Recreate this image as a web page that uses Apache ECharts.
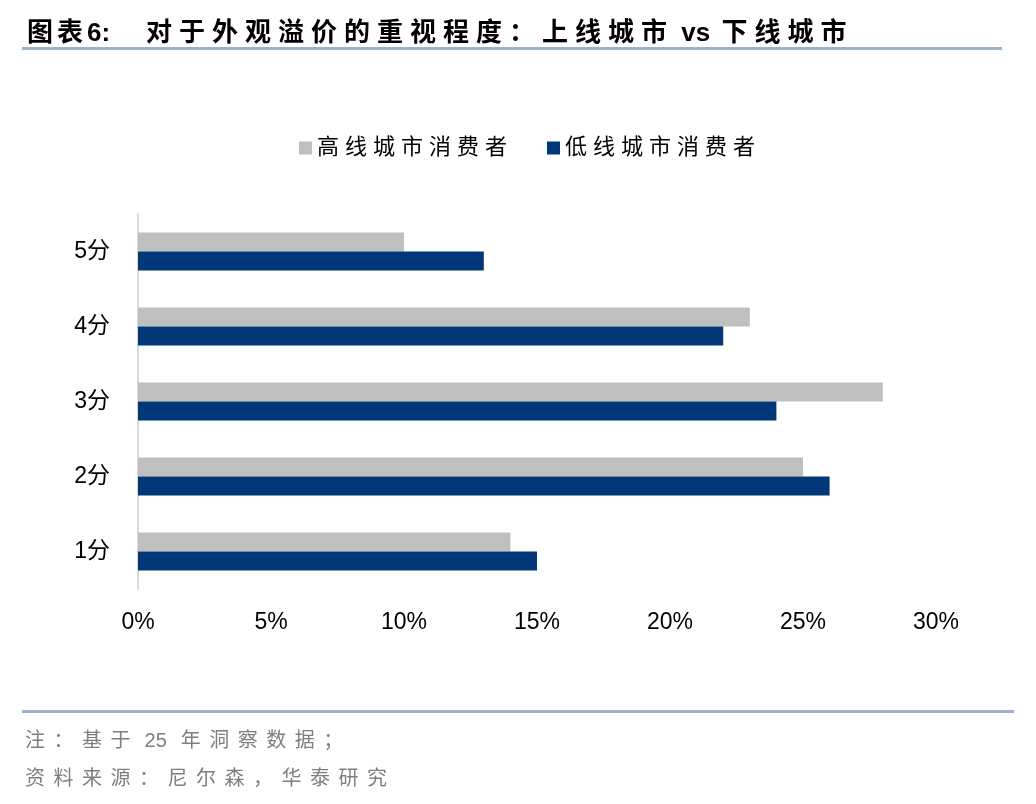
<!DOCTYPE html>
<html>
<head>
<meta charset="utf-8">
<script src="https://cdn.jsdelivr.net/npm/echarts@6/dist/echarts.min.js"></script>
<style>
html,body{margin:0;padding:0;background:#fff;}
#chart{width:1036px;height:804px;}
</style>
</head>
<body>
<div id="chart"></div>
<script>
const categories = ['1分', '2分', '3分', '4分', '5分'];
const highTier = [14, 25, 28, 23, 10];
const lowTier = [15, 26, 24, 22, 13];
const seriesNames = ['高线城市消费者', '低线城市消费者'];
const xTicks = [0, 5, 10, 15, 20, 25, 30];

const font = '"Liberation Sans", Arial, "Noto Sans CJK SC", sans-serif';
// split text into rich tokens: each CJK char separately (for letter spacing), other runs together
function spaced(str, key) {
  const parts = str.match(/[\u3000-\u9fff\uff00-\uffef]|[^\u3000-\u9fff\uff00-\uffef]+/g) || [];
  return parts.map(p => '{' + key + '|' + p + '}').join('');
}

const chart = echarts.init(document.getElementById('chart'), null, {renderer: 'canvas'});
const footStyle = {fontSize: 20, fontWeight: 'normal', color: '#7f7f7f', fontFamily: font, padding: [0, 8.5, 0, 0]};
chart.setOption({
  animation: false,
  backgroundColor: '#ffffff',
  title: [
    {
      text: spaced('图表', 't1') + '{t0|6:}{gap| }' + spaced('对于外观溢价的重视程度：上线城市', 't2') + '{t0| vs }' + spaced('下线城市', 't2'),
      left: 22, top: 16,
      textStyle: {
        fontSize: 26, fontWeight: 'bold', color: '#000', fontFamily: font,
        rich: {
          t0: {fontSize: 26, fontWeight: 'bold', color: '#000', fontFamily: font, padding: [0, 4, 0, 0]},
          t1: {fontSize: 26, fontWeight: 'bold', color: '#000', fontFamily: font, padding: [0, 4, 0, 0]},
          t2: {fontSize: 26, fontWeight: 'bold', color: '#000', fontFamily: font, padding: [0, 7, 0, 0]},
          gap: {fontSize: 26, fontFamily: font, width: 32}
        }
      }
    },
    {
      text: spaced('注：基于 25 年洞察数据；', 'f'),
      left: 20, top: 726,
      textStyle: {fontSize: 20, fontWeight: 'normal', color: '#7f7f7f', fontFamily: font, rich: {f: footStyle}}
    },
    {
      text: spaced('资料来源：尼尔森，华泰研究', 'f'),
      left: 20, top: 764,
      textStyle: {fontSize: 20, fontWeight: 'normal', color: '#7f7f7f', fontFamily: font, rich: {f: footStyle}}
    }
  ],
  graphic: [
    {type: 'rect', shape: {x: 22, y: 47, width: 980, height: 3}, style: {fill: '#9DB2CD'}},
    {type: 'rect', shape: {x: 22, y: 710, width: 992, height: 3}, style: {fill: '#9DB2CD'}}
  ],
  legend: {
    data: seriesNames,
    top: 132,
    left: 294,
    itemWidth: 13, itemHeight: 13,
    itemGap: 40,
    icon: 'rect',
    formatter: name => spaced(name, 'l'),
    textStyle: {
      fontSize: 22, color: '#000', fontFamily: font,
      rich: {l: {fontSize: 22, color: '#000', fontFamily: font, padding: [0, 6, 0, 0]}}
    }
  },
  grid: {left: 138, right: 100, top: 214, bottom: 215, containLabel: false},
  xAxis: {
    type: 'value',
    min: 0, max: 30, interval: 5,
    axisLine: {show: false},
    axisTick: {show: false},
    splitLine: {show: false},
    axisLabel: {
      formatter: v => xTicks.includes(v) ? v + '%' : '',
      fontSize: 23, color: '#000', margin: 22, fontFamily: font
    }
  },
  yAxis: {
    type: 'category',
    data: categories,
    axisLine: {show: true, lineStyle: {color: '#D9D9D9', width: 2}},
    axisTick: {show: false},
    axisLabel: {fontSize: 23, color: '#000', margin: 28, fontFamily: font}
  },
  series: [
    {
      name: seriesNames[0], type: 'bar', data: highTier,
      barWidth: 19, barGap: '0%',
      itemStyle: {color: '#BFBFBF'}
    },
    {
      name: seriesNames[1], type: 'bar', data: lowTier,
      barWidth: 19, barGap: '0%',
      itemStyle: {color: '#023777'}
    }
  ]
});
</script>
</body>
</html>
